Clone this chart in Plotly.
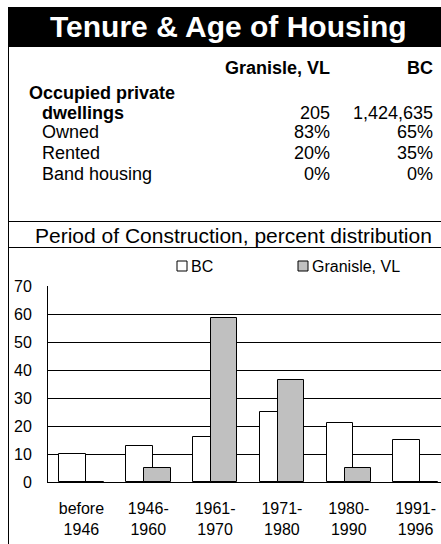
import plotly.graph_objects as go

# ---- data ----
periods = ["before<br>1946", "1946-<br>1960", "1961-<br>1970", "1971-<br>1980", "1980-<br>1990", "1991-<br>1996"]
bc_values = [10, 13, 16, 25, 21, 15]
granisle_values = [0, 5, 58.5, 36.5, 5, 0]

table_cols = ["Granisle, VL", "BC"]
table_rows = ["Owned", "Rented", "Band housing"]
dwellings = ["205", "1,424,635"]
granisle_pct = ["83%", "20%", "0%"]
bc_pct = ["65%", "35%", "0%"]

W, H = 441, 544
L, R, T, B = 48, 441, 286, 482
FONT = "Liberation Sans, Arial, sans-serif"


def px(x):
    return (x - L) / (R - L)


def py(y):
    return (B - y) / (B - T)


fig = go.Figure()
fig.add_trace(go.Bar(
    x=list(range(len(periods))), y=bc_values, name="BC",
    marker=dict(color="white", line=dict(color="black", width=1)),
    width=0.397, offset=-0.332, showlegend=False,
))
fig.add_trace(go.Bar(
    x=list(range(len(periods))), y=granisle_values, name="Granisle, VL",
    marker=dict(color="#C0C0C0", line=dict(color="black", width=1)),
    width=0.397, offset=-0.063, showlegend=False,
))

shapes = []
annotations = []

# frame
shapes.append(dict(type="rect", xref="paper", yref="paper", x0=px(8), x1=px(441), y0=py(7), y1=py(47),
                   fillcolor="black", line=dict(width=0), layer="below"))
shapes.append(dict(type="line", xref="paper", yref="paper", x0=px(8.5), x1=px(8.5), y0=py(7), y1=py(544),
                   line=dict(color="black", width=1)))
for yy in (221.5, 247.5):
    shapes.append(dict(type="line", xref="paper", yref="paper", x0=px(8), x1=px(441), y0=py(yy), y1=py(yy),
                       line=dict(color="black", width=1)))


def txt(x, y, s, size, anchor="left", bold=False, color="black"):
    annotations.append(dict(
        xref="paper", yref="paper", x=px(x), y=py(y), text=f"<b>{s}</b>" if bold else s,
        showarrow=False, xanchor=anchor, yanchor="middle",
        font=dict(family=FONT, size=size, color=color),
    ))


TS = 18
txt(228, 27, "Tenure & Age of Housing", 30, "center", True, "white")
txt(332, 68, table_cols[0], TS, "right", True)
txt(435, 68, table_cols[1], TS, "right", True)
txt(27, 93, "Occupied private", TS, "left", True)
txt(40, 113, "dwellings", TS, "left", True)
txt(332, 113, dwellings[0], TS, "right")
txt(435, 113, dwellings[1], TS, "right")
row_y = [132, 153, 174]
for i, r in enumerate(table_rows):
    txt(40, row_y[i], r, TS, "left")
    txt(332, row_y[i], granisle_pct[i], TS, "right")
    txt(435, row_y[i], bc_pct[i], TS, "right")

txt(233, 235, "Period of Construction, percent distribution", 21, "center")

# legend
for x0, fill, label in ((177, "white", "BC"), (298, "#C0C0C0", "Granisle, VL")):
    shapes.append(dict(type="rect", xref="paper", yref="paper", x0=px(x0), x1=px(x0 + 10), y0=py(261), y1=py(271),
                       fillcolor=fill, line=dict(color="black", width=1)))
    txt(x0 + 12, 266, label, 16, "left")

fig.update_layout(
    width=W, height=H,
    margin=dict(l=L, r=W - R, t=T, b=H - B, pad=0),
    paper_bgcolor="white", plot_bgcolor="white",
    barmode="overlay", bargap=0,
    shapes=shapes, annotations=annotations,
    showlegend=False,
    xaxis=dict(
        tickmode="array", tickvals=list(range(len(periods))), ticktext=periods,
        range=[-0.5, 5.5 - 8 / 66.8], showgrid=False, showline=True, linecolor="black", linewidth=1,
        ticks="", tickfont=dict(family=FONT, size=16, color="black"), zeroline=False,
        ticklabelstandoff=12, fixedrange=True,
    ),
    yaxis=dict(
        range=[0, 70], tickvals=[0, 10, 20, 30, 40, 50, 60, 70], showgrid=True, gridcolor="black",
        gridwidth=1, showline=True, linecolor="black", linewidth=1, ticks="",
        tickfont=dict(family=FONT, size=16, color="black"), zeroline=False, ticklabelstandoff=12,
        fixedrange=True,
    ),
)

fig.write_html("out.html", config={"displayModeBar": False},
               post_script="document.body.style.margin='0';")
